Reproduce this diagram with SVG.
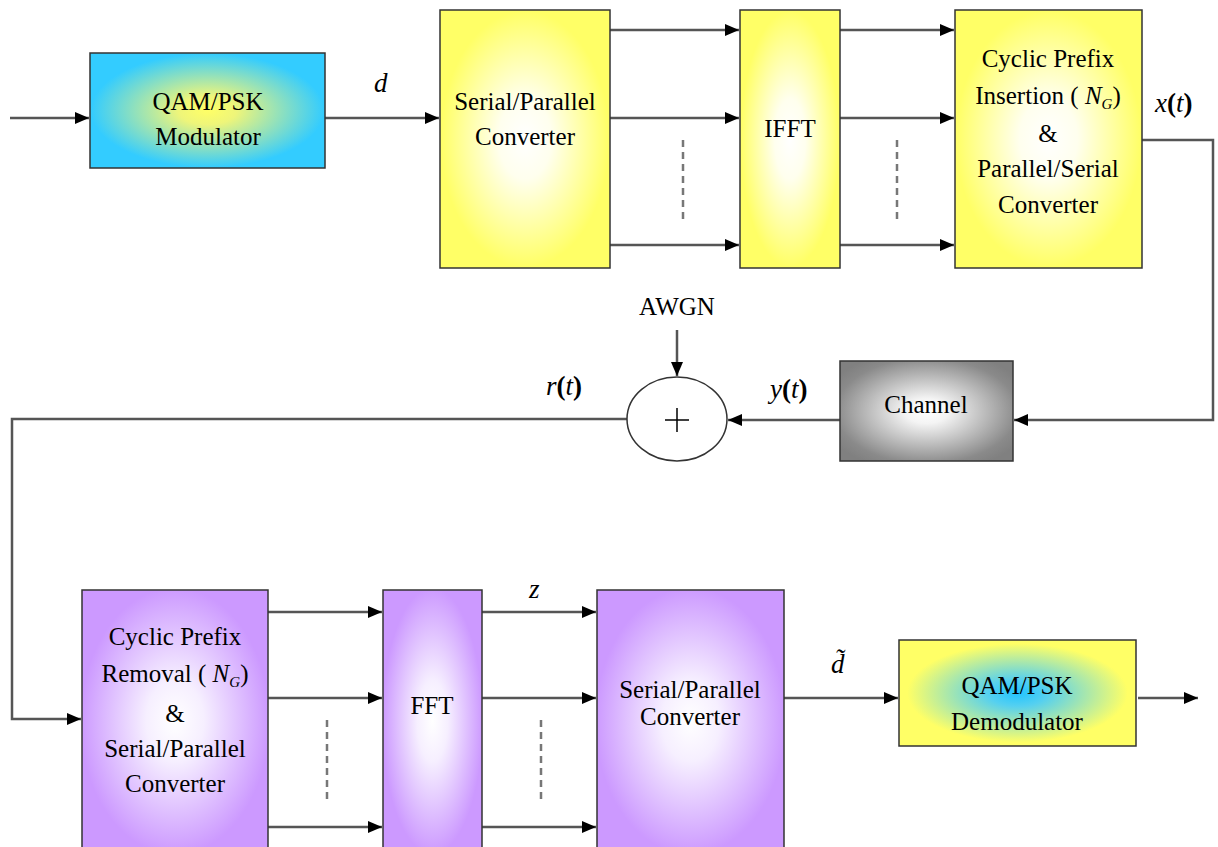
<svg xmlns="http://www.w3.org/2000/svg" width="1218" height="847" viewBox="0 0 1218 847">
<defs>
<radialGradient id="gMod" cx="0.5" cy="0.5" r="0.62"><stop offset="0" stop-color="#ffff66"/><stop offset="0.2" stop-color="#eef57a"/><stop offset="0.8" stop-color="#33ccff"/><stop offset="1" stop-color="#33ccff"/></radialGradient>
<radialGradient id="gYel" cx="0.5" cy="0.5" r="0.62"><stop offset="0" stop-color="#ffffff"/><stop offset="0.25" stop-color="#ffffee"/><stop offset="0.8" stop-color="#ffff66"/><stop offset="1" stop-color="#ffff66"/></radialGradient>
<radialGradient id="gPur" cx="0.5" cy="0.5" r="0.62"><stop offset="0" stop-color="#ffffff"/><stop offset="0.25" stop-color="#f6efff"/><stop offset="0.82" stop-color="#cc99ff"/><stop offset="1" stop-color="#cc99ff"/></radialGradient>
<radialGradient id="gGray" cx="0.5" cy="0.5" r="0.62"><stop offset="0" stop-color="#ffffff"/><stop offset="0.2" stop-color="#f4f4f4"/><stop offset="0.85" stop-color="#8a8a8a"/><stop offset="1" stop-color="#808080"/></radialGradient>
<radialGradient id="gDem" cx="0.5" cy="0.5" r="0.62"><stop offset="0" stop-color="#22c4ff"/><stop offset="0.2" stop-color="#55d0f0"/><stop offset="0.75" stop-color="#ffff66"/><stop offset="1" stop-color="#ffff66"/></radialGradient>
<marker id="ah" markerWidth="14" markerHeight="12" refX="14" refY="6" orient="auto" markerUnits="userSpaceOnUse"><path d="M0,0 L14,6 L0,12 Z" fill="#000"/></marker>
</defs>
<style>
.box{stroke:#333;stroke-width:1.5}
.t{font-size:25px;fill:#000;text-anchor:middle}
.m{font-size:27px;fill:#000}
.i{font-style:italic}
.b{font-weight:bold}
.ln{stroke:#555;stroke-width:2.5;fill:none}
.ar{stroke:#555;stroke-width:2.5;fill:none;marker-end:url(#ah)}
.dash{stroke:#777;stroke-width:2.5;stroke-dasharray:7,5;fill:none}
</style>
<rect width="1218" height="847" fill="#fff"/>

<g id="connectors">
<line class="ar" x1="10" y1="118" x2="89" y2="118"/>
<line class="ar" x1="325" y1="118" x2="439" y2="118"/>
<line class="ar" x1="610" y1="30" x2="739" y2="30"/>
<line class="ar" x1="610" y1="118" x2="739" y2="118"/>
<line class="ar" x1="610" y1="245" x2="739" y2="245"/>
<line class="ar" x1="840" y1="30" x2="954" y2="30"/>
<line class="ar" x1="840" y1="118" x2="954" y2="118"/>
<line class="ar" x1="840" y1="245" x2="954" y2="245"/>
<line class="dash" x1="683" y1="140" x2="683" y2="222"/>
<line class="dash" x1="897" y1="140" x2="897" y2="222"/>
<polyline class="ar" points="1142,140 1213,140 1213,420 1014,420"/>
<line class="ar" x1="840" y1="420" x2="728" y2="420"/>
<line class="ar" x1="677" y1="330" x2="677" y2="376"/>
<polyline class="ar" points="627,419 12,419 12,719 81,719"/>
<line class="ar" x1="268" y1="612" x2="382" y2="612"/>
<line class="ar" x1="268" y1="698" x2="382" y2="698"/>
<line class="ar" x1="268" y1="827" x2="382" y2="827"/>
<line class="ar" x1="482" y1="612" x2="596" y2="612"/>
<line class="ar" x1="482" y1="698" x2="596" y2="698"/>
<line class="ar" x1="482" y1="827" x2="596" y2="827"/>
<line class="dash" x1="327" y1="720" x2="327" y2="802"/>
<line class="dash" x1="541" y1="720" x2="541" y2="802"/>
<line class="ar" x1="784" y1="698" x2="898" y2="698"/>
<line class="ar" x1="1138" y1="698" x2="1198" y2="698"/>
</g>

<g font-family="'Liberation Serif', 'Times New Roman', serif">
<g id="mod">
<rect class="box" x="90" y="53" width="235" height="115" fill="url(#gMod)"/>
<text class="t" x="208" y="110">QAM/PSK</text>
<text class="t" x="208" y="145">Modulator</text>
</g>
<g id="sp1">
<rect class="box" x="440" y="10" width="170" height="258" fill="url(#gYel)"/>
<text class="t" x="525" y="110">Serial/Parallel</text>
<text class="t" x="525" y="145">Converter</text>
</g>
<g id="ifft">
<rect class="box" x="740" y="10" width="100" height="258" fill="url(#gYel)"/>
<text class="t" x="790" y="137">IFFT</text>
</g>
<g id="cpi">
<rect class="box" x="955" y="10" width="187" height="258" fill="url(#gYel)"/>
<text class="t" x="1048" y="67">Cyclic Prefix</text>
<text class="t" x="1048" y="104">Insertion ( <tspan class="i">N</tspan><tspan class="i" font-size="15" dy="5">G</tspan><tspan dy="-5">)</tspan></text>
<text class="t" x="1048" y="142">&amp;</text>
<text class="t" x="1048" y="177">Parallel/Serial</text>
<text class="t" x="1048" y="213">Converter</text>
</g>
<g id="channel">
<rect class="box" x="840" y="361" width="173" height="100" fill="url(#gGray)"/>
<text class="t" x="926" y="413">Channel</text>
</g>
<g id="sum">
<ellipse cx="677" cy="419" rx="50" ry="42" fill="#fff" stroke="#333" stroke-width="1.5"/>
<line x1="665" y1="420" x2="689" y2="420" stroke="#000" stroke-width="1.5"/>
<line x1="677" y1="408" x2="677" y2="432" stroke="#000" stroke-width="1.5"/>
</g>
<g id="awgn">
<text class="t" x="677" y="315">AWGN</text>
</g>
<g id="cpr">
<rect class="box" x="82" y="590" width="186" height="262" fill="url(#gPur)"/>
<text class="t" x="175" y="645">Cyclic Prefix</text>
<text class="t" x="175" y="682">Removal ( <tspan class="i">N</tspan><tspan class="i" font-size="15" dy="5">G</tspan><tspan dy="-5">)</tspan></text>
<text class="t" x="175" y="722">&amp;</text>
<text class="t" x="175" y="757">Serial/Parallel</text>
<text class="t" x="175" y="792">Converter</text>
</g>
<g id="fft">
<rect class="box" x="383" y="590" width="99" height="262" fill="url(#gPur)"/>
<text class="t" x="432" y="714">FFT</text>
</g>
<g id="sp2">
<rect class="box" x="597" y="590" width="187" height="262" fill="url(#gPur)"/>
<text class="t" x="690" y="698">Serial/Parallel</text>
<text class="t" x="690" y="725">Converter</text>
</g>
<g id="demod">
<rect class="box" x="899" y="640" width="237" height="106" fill="url(#gDem)"/>
<text class="t" x="1017" y="694">QAM/PSK</text>
<text class="t" x="1017" y="730">Demodulator</text>
</g>

<g id="labels">
<text class="m i" x="374" y="92">d</text>
<text class="m" x="1155" y="112"><tspan class="i">x</tspan><tspan class="b">(</tspan><tspan class="i">t</tspan><tspan class="b">)</tspan></text>
<text class="m" x="546" y="395"><tspan class="i">r</tspan><tspan class="b">(</tspan><tspan class="i">t</tspan><tspan class="b">)</tspan></text>
<text class="m" x="770" y="398"><tspan class="i">y</tspan><tspan class="b">(</tspan><tspan class="i">t</tspan><tspan class="b">)</tspan></text>
<text class="m i" x="529" y="598">z</text>
<text class="m i" x="831" y="673">d̃</text>
</g>
</g>
</svg>
